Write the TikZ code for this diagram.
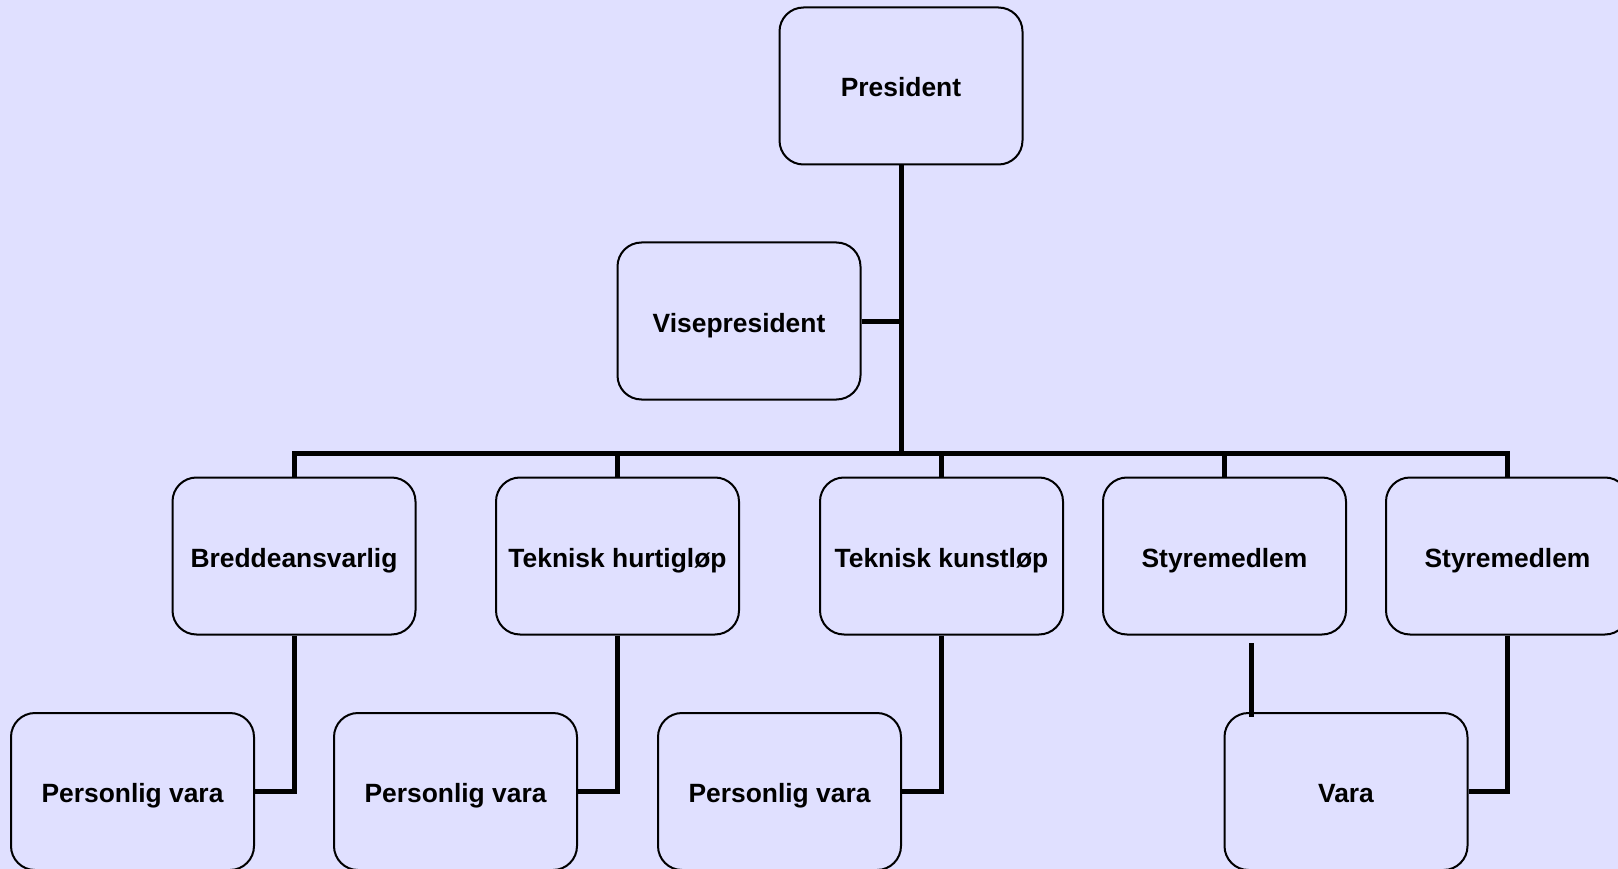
\documentclass[tikz,border=0pt]{standalone}
\usepackage{fontspec}
\setmainfont{Liberation Sans}
\definecolor{bg}{RGB}{224,224,255}
\begin{document}
\begin{tikzpicture}[x=1pt,y=-1pt,
  box/.style={draw=black,line width=2pt,fill=bg,rounded corners=24pt,minimum width=243pt,minimum height=157pt,inner sep=0pt,text height=22pt,text depth=0pt,font=\fontsize{26.4}{31}\selectfont\bfseries},
  link/.style={line width=5pt,line join=miter}]
\useasboundingbox (0,0) rectangle (1618,869);
\clip (0,0) rectangle (1618,869);
\fill[bg] (0,0) rectangle (1618,869);
\node[box] (pres) at (901,86) {President};
\node[box] (vise) at (739,321) {Visepresident};
\node[box] (bredde) at (294,556) {Breddeansvarlig};
\node[box] (hurtig) at (617.5,556) {Teknisk hurtigløp};
\node[box] (kunst) at (941.5,556) {Teknisk kunstløp};
\node[box] (styre1) at (1224.5,556) {Styremedlem};
\node[box] (styre2) at (1507.5,556) {Styremedlem};
\node[box] (pv1) at (132.5,791.5) {Personlig vara};
\node[box] (pv2) at (455.5,791.5) {Personlig vara};
\node[box] (pv3) at (779.5,791.5) {Personlig vara};
\node[box] (vara) at (1346,791.5) {Vara};
\coordinate (bus) at (294,453);
\coordinate (stubtop) at (1251,643);
\draw[link] (pres.south) -- (pres.south |- bus);
\draw[link] (vise.east) -- (vise.east -| pres.south);
\draw[link] (bredde.north) -- (bredde.north |- bus) -- (styre2.north |- bus) -- (styre2.north);
\draw[link] (hurtig.north) -- (hurtig.north |- bus);
\draw[link] (kunst.north) -- (kunst.north |- bus);
\draw[link] (styre1.north) -- (styre1.north |- bus);
\draw[link] (bredde.south) |- (pv1.east);
\draw[link] (hurtig.south) |- (pv2.east);
\draw[link] (kunst.south) |- (pv3.east);
\draw[link] (styre2.south) |- (vara.east);
\draw[link] (stubtop) -- ([yshift=-5pt]stubtop |- vara.north);
\end{tikzpicture}
\end{document}
